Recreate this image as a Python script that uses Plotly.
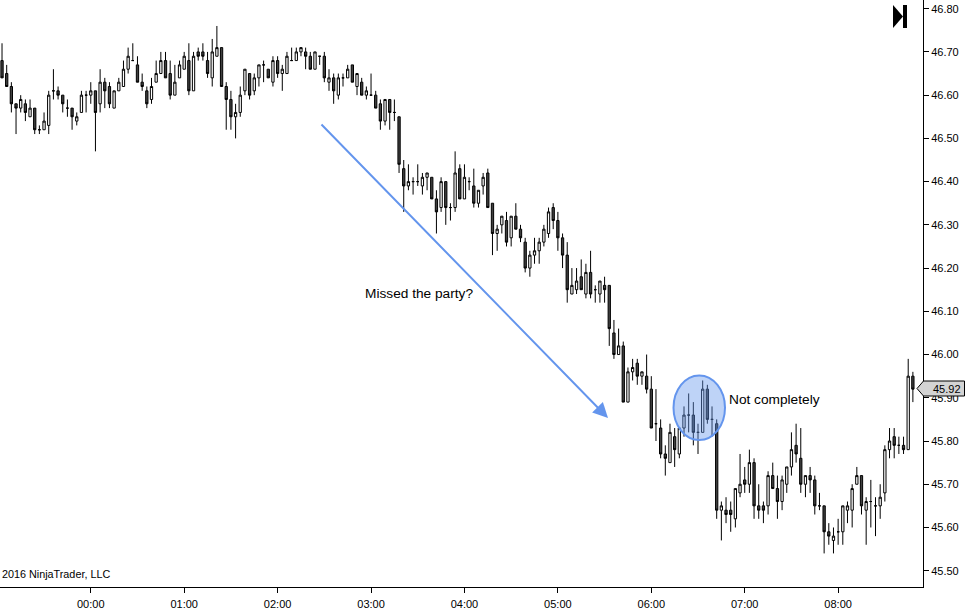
import pandas as pd
import plotly.graph_objects as go

FIRST_BAR = "2015-12-31 23:03"
opens = [
46.68,46.65,46.62,46.58,46.57,46.58,46.55,46.57,46.52,46.52,
46.53,46.61,46.61,46.60,46.57,46.57,46.54,46.56,46.60,46.60,
46.61,46.58,46.63,46.62,46.57,46.61,46.62,46.66,46.68,46.67,
46.63,46.61,46.59,46.63,46.65,46.68,46.65,46.60,46.64,46.66,
46.68,46.61,46.70,46.70,46.68,46.64,46.69,46.71,46.62,46.59,
46.55,46.56,46.61,46.65,46.61,46.64,46.67,46.66,46.63,46.68,
46.65,46.65,46.68,46.68,46.70,46.70,46.69,46.66,46.69,46.69,
46.63,46.64,46.60,46.64,46.64,46.67,46.62,46.63,46.60,46.60,
46.60,46.58,46.54,46.59,46.56,46.55,46.43,46.39,46.40,46.40,
46.39,46.41,46.41,46.36,46.34,46.40,46.34,46.34,46.43,46.36,
46.40,46.39,46.35,46.39,46.42,46.35,46.28,46.30,46.31,46.27,
46.32,46.29,46.26,46.20,46.23,46.24,46.26,46.28,46.34,46.31,
46.27,46.23,46.14,46.15,46.18,46.14,46.19,46.15,46.14,46.16,
46.16,46.05,46.00,46.02,45.89,45.96,45.98,45.95,45.95,45.92,
45.84,45.83,45.77,45.75,45.81,45.77,45.83,45.86,45.86,45.82,
45.82,45.92,45.85,45.84,45.64,45.64,45.64,45.62,45.68,45.71,
45.70,45.75,45.65,45.65,45.65,45.72,45.69,45.66,45.70,45.74,
45.79,45.76,45.70,45.72,45.71,45.65,45.65,45.59,45.57,45.59,
45.59,45.64,45.64,45.70,45.72,45.64,45.66,45.65,45.65,45.68,
45.78,45.81,45.79,45.79,45.78,45.95]
highs = [
46.72,46.67,46.63,46.58,46.60,46.59,46.59,46.57,46.53,46.56,
46.61,46.66,46.62,46.60,46.59,46.57,46.56,46.61,46.61,46.63,
46.61,46.66,46.64,46.63,46.61,46.64,46.68,46.71,46.72,46.69,
46.65,46.62,46.64,46.68,46.70,46.70,46.68,46.67,46.68,46.70,
46.72,46.70,46.71,46.72,46.70,46.73,46.76,46.71,46.63,46.61,
46.58,46.62,46.66,46.65,46.65,46.67,46.68,46.66,46.69,46.69,
46.67,46.70,46.71,46.71,46.71,46.71,46.70,46.70,46.69,46.70,
46.66,46.65,46.65,46.65,46.67,46.67,46.65,46.64,46.62,46.65,
46.61,46.59,46.59,46.59,46.59,46.55,46.45,46.44,46.41,46.44,
46.42,46.42,46.41,46.38,46.41,46.40,46.35,46.47,46.44,46.44,
46.41,46.43,46.38,46.42,46.43,46.35,46.30,46.32,46.33,46.32,
46.35,46.30,46.27,46.24,46.27,46.27,46.30,46.34,46.35,46.33,
46.28,46.26,46.20,46.20,46.22,46.21,46.24,46.16,46.17,46.18,
46.16,46.08,46.06,46.03,45.97,45.99,45.99,45.96,46.00,45.95,
45.92,45.85,45.79,45.84,45.83,45.83,45.88,45.91,45.89,45.84,
45.94,45.93,45.88,45.85,45.66,45.67,45.66,45.69,45.77,45.74,
45.78,45.76,45.70,45.66,45.73,45.75,45.72,45.72,45.74,45.82,
45.84,45.83,45.72,45.74,45.72,45.68,45.65,45.61,45.60,45.62,
45.65,45.66,45.70,45.74,45.72,45.67,45.71,45.67,45.70,45.79,
45.83,45.83,45.81,45.81,45.99,45.96]
lows = [
46.64,46.62,46.56,46.51,46.56,46.54,46.55,46.51,46.51,46.52,
46.51,46.59,46.59,46.56,46.55,46.52,46.53,46.56,46.56,46.58,
46.47,46.56,46.57,46.57,46.57,46.61,46.62,46.65,46.68,46.63,
46.61,46.57,46.58,46.63,46.65,46.64,46.59,46.60,46.64,46.66,
46.60,46.61,46.68,46.68,46.64,46.62,46.69,46.62,46.52,46.52,
46.50,46.55,46.60,46.59,46.60,46.62,46.63,46.64,46.62,46.64,
46.61,46.65,46.68,46.68,46.69,46.66,46.66,46.66,46.67,46.63,
46.61,46.58,46.59,46.62,46.64,46.63,46.60,46.60,46.59,46.60,
46.57,46.52,46.53,46.52,46.54,46.42,46.33,46.38,46.37,46.39,
46.37,46.38,46.36,46.28,46.33,46.30,46.31,46.33,46.36,46.36,
46.38,46.34,46.34,46.37,46.34,46.23,46.24,46.28,46.25,46.25,
46.29,46.26,46.19,46.18,46.21,46.21,46.25,46.27,46.29,46.24,
46.20,46.12,46.14,46.14,46.15,46.13,46.13,46.12,46.12,46.12,
46.02,45.99,46.00,45.89,45.89,45.94,45.93,45.93,45.91,45.83,
45.80,45.76,45.72,45.75,45.74,45.76,45.81,45.82,45.79,45.77,
45.82,45.84,45.81,45.62,45.57,45.61,45.59,45.60,45.67,45.68,
45.68,45.62,45.62,45.61,45.63,45.69,45.62,45.64,45.68,45.72,
45.75,45.68,45.67,45.68,45.63,45.64,45.54,45.56,45.54,45.56,
45.56,45.61,45.60,45.70,45.63,45.56,45.60,45.58,45.62,45.66,
45.76,45.76,45.77,45.77,45.78,45.89]
closes = [
46.64,46.62,46.58,46.57,46.59,46.56,46.57,46.52,46.52,46.54,
46.60,46.61,46.60,46.58,46.57,46.55,46.55,46.60,46.60,46.61,
46.56,46.63,46.61,46.58,46.61,46.63,46.66,46.69,46.68,46.63,
46.62,46.58,46.62,46.65,46.68,46.64,46.60,46.63,46.67,46.69,
46.61,46.69,46.69,46.69,46.65,46.70,46.71,46.62,46.59,46.55,
46.56,46.60,46.66,46.60,46.64,46.67,46.67,46.64,46.68,46.65,
46.66,46.69,46.68,46.70,46.71,46.69,46.66,46.70,46.69,46.64,
46.64,46.61,46.64,46.64,46.66,46.63,46.65,46.60,46.61,46.60,
46.57,46.54,46.59,46.56,46.56,46.44,46.39,46.40,46.40,46.40,
46.41,46.42,46.36,46.33,46.40,46.34,46.34,46.42,46.36,46.41,
46.40,46.35,46.38,46.41,46.34,46.28,46.29,46.32,46.26,46.32,
46.29,46.27,46.20,46.23,46.24,46.26,46.29,46.33,46.31,46.27,
46.23,46.15,46.16,46.17,46.15,46.19,46.14,46.15,46.17,46.15,
46.06,46.00,46.02,45.89,45.96,45.97,45.95,45.96,45.92,45.83,
45.84,45.77,45.76,45.82,45.78,45.83,45.86,45.86,45.82,45.82,
45.92,45.85,45.85,45.64,45.65,45.63,45.63,45.69,45.70,45.70,
45.75,45.65,45.64,45.64,45.72,45.69,45.66,45.71,45.74,45.78,
45.77,45.70,45.72,45.71,45.65,45.65,45.59,45.58,45.58,45.59,
45.65,45.65,45.69,45.72,45.65,45.66,45.66,45.65,45.67,45.78,
45.80,45.79,45.79,45.78,45.95,45.92]
last_price = "45.92"
hour_ticks = ["2016-01-01 %02d:00" % h for h in range(9)]
hour_labels = ["%02d:00" % h for h in range(9)]

times = pd.date_range(FIRST_BAR, periods=len(opens), freq="3min")

W, H = 966, 616
PR, PB = 923, 587
px = lambda x: x / PR
py = lambda y: (PB - y) / PB
CORN = "#6495ED"

fig = go.Figure(go.Candlestick(
    x=times, open=opens, high=highs, low=lows, close=closes,
    increasing=dict(line=dict(color="#000000", width=1), fillcolor="#ffffff"),
    decreasing=dict(line=dict(color="#000000", width=1), fillcolor="#404040"),
    whiskerwidth=0, hoverinfo="skip", showlegend=False))

shapes = [
    dict(type="circle", xref="paper", yref="paper", x0=px(673.5), x1=px(725), y0=py(440), y1=py(375.5),
         line=dict(color=CORN, width=2), fillcolor="rgba(100,149,237,0.42)", layer="above"),
    dict(type="path", xref="paper", yref="paper", layer="above",
         path=f"M{px(917)},{py(388.5)} L{px(923.5)},{py(381)} L{px(964.5)},{py(381)} L{px(964.5)},{py(396)} L{px(923.5)},{py(396)} Z",
         fillcolor="#d3d3d3", line=dict(color="#000000", width=1)),
    dict(type="path", xref="paper", yref="paper", layer="above",
         path=f"M{px(893)},{py(5)} L{px(903)},{py(16.5)} L{px(893)},{py(28)} Z",
         fillcolor="#000000", line=dict(width=0)),
    dict(type="rect", xref="paper", yref="paper", layer="above", x0=px(903), x1=px(907), y0=py(5), y1=py(28),
         fillcolor="#000000", line=dict(width=0)),
]
font = dict(family="Liberation Sans, Arial, sans-serif", color="#000000")
annotations = [
    dict(xref="paper", yref="paper", x=px(608), y=py(418), ax=320 - 608, ay=123 - 418, axref="pixel", ayref="pixel",
         showarrow=True, arrowhead=2, arrowsize=1.5, arrowwidth=2, arrowcolor=CORN, text=""),
    dict(xref="paper", yref="paper", x=px(363), y=py(293), xanchor="left", yanchor="middle", showarrow=False,
         text="Missed the party?", font=dict(size=13.7, **font)),
    dict(xref="paper", yref="paper", x=px(727), y=py(399), xanchor="left", yanchor="middle", showarrow=False,
         text="Not completely", font=dict(size=13.7, **font)),
    dict(xref="paper", yref="paper", x=px(112), y=py(574), xanchor="right", yanchor="middle", showarrow=False,
         text="© 2016 NinjaTrader, LLC", font=dict(size=10.8, **font)),
    dict(xref="paper", yref="paper", x=px(931), y=py(389), xanchor="left", yanchor="middle", showarrow=False,
         text=last_price, font=dict(size=11, **font)),
]

fig.update_layout(
    width=W, height=H, autosize=False, margin=dict(l=0, r=W - PR, t=0, b=H - PB),
    paper_bgcolor="#ffffff", plot_bgcolor="#ffffff", showlegend=False, boxgap=0.3, boxgroupgap=0.3,
    shapes=shapes, annotations=annotations,
    xaxis=dict(type="date", range=["2015-12-31 23:01:42", "2016-01-01 08:54:30"], rangeslider=dict(visible=False),
               tickvals=hour_ticks, ticktext=hour_labels, tickmode="array", showgrid=False, zeroline=False,
               ticks="outside", ticklen=5, tickcolor="#000000", showline=True, linecolor="#000000", linewidth=1,
               ticklabelstandoff=2, tickfont=dict(size=11, **font)),
    yaxis=dict(side="right", range=[45.4623, 46.8201], dtick=0.1, tick0=45.5, tickformat=".2f", showgrid=False,
               zeroline=False, ticks="outside", ticklen=5, tickcolor="#000000", showline=True, linecolor="#000000",
               linewidth=1, tickfont=dict(size=11, **font)),
)
fig.write_html("out.html", config=dict(displayModeBar=False),
               post_script="document.body.style.margin='0';")
